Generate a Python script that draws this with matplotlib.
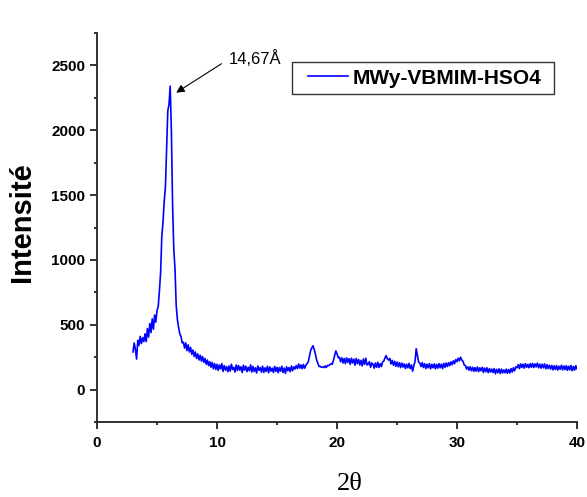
import matplotlib
matplotlib.use("Agg")
import matplotlib.pyplot as plt
from matplotlib.patches import Rectangle
import numpy as np

# 2theta grid (deg), 0.1 step from 3.0 to 40.0
two_theta = np.round(np.arange(30, 401) / 10.0, 1)

# intensity, one row per degree
intensity = [
    290, 360, 310, 235, 380, 340, 410, 355, 400, 370,        # 3
    430, 370, 470, 405, 510, 440, 545, 465, 575, 520,        # 4
    610, 640, 760, 900, 1180, 1290, 1450, 1560, 1850, 2150,  # 5
    2200, 2340, 1990, 1420, 1080, 930, 650, 540, 480, 430,   # 6
    410, 360, 365, 320, 360, 300, 345, 290, 325, 272,        # 7
    305, 255, 290, 240, 275, 228, 265, 220, 255, 210,        # 8
    240, 195, 228, 185, 215, 172, 210, 160, 200, 155,        # 9
    195, 148, 190, 160, 200, 140, 185, 150, 178, 138,        # 10
    182, 142, 196, 155, 172, 135, 190, 148, 185, 150,        # 11
    176, 132, 188, 150, 180, 138, 172, 145, 190, 135,        # 12
    178, 140, 168, 128, 182, 148, 170, 135, 180, 132,        # 13
    168, 140, 180, 130, 175, 142, 165, 132, 178, 140,        # 14
    172, 130, 170, 142, 180, 132, 166, 125, 176, 145,        # 15
    170, 138, 182, 145, 176, 158, 185, 162, 198, 165,        # 16
    190, 160, 194, 165, 186, 200, 212, 255, 300, 322,        # 17
    338, 310, 275, 228, 205, 178, 180, 172, 175, 170,        # 18
    182, 170, 186, 184, 192, 200, 194, 225, 262, 298,        # 19
    278, 245, 250, 215, 245, 205, 240, 200, 245, 210,        # 20
    238, 195, 242, 205, 235, 188, 240, 200, 232, 190,        # 21
    225, 182, 236, 195, 242, 190, 195, 215, 172, 205,        # 22
    196, 165, 205, 172, 210, 170, 200, 178, 212, 220,        # 23
    245, 262, 238, 228, 240, 198, 225, 188, 218, 180,        # 24
    212, 176, 208, 170, 205, 174, 198, 162, 195, 168,        # 25
    202, 162, 190, 142, 185, 215, 315, 262, 212, 205,        # 26
    178, 208, 170, 200, 162, 196, 168, 200, 160, 195,        # 27
    168, 198, 160, 195, 165, 200, 168, 196, 162, 202,        # 28
    172, 205, 178, 208, 184, 214, 192, 222, 200, 232,        # 29
    215, 242, 222, 250, 228, 218, 190, 185, 158, 175,        # 30
    150, 176, 145, 172, 140, 170, 142, 174, 138, 168,        # 31
    145, 172, 132, 166, 138, 168, 130, 162, 135, 158,        # 32
    132, 162, 122, 156, 130, 160, 124, 158, 128, 152,        # 33
    130, 158, 125, 155, 128, 162, 135, 168, 145, 175,        # 34
    168, 192, 162, 198, 170, 196, 165, 200, 172, 194,        # 35
    168, 200, 172, 202, 170, 198, 175, 204, 168, 196,        # 36
    165, 196, 168, 198, 160, 192, 162, 188, 158, 186,        # 37
    152, 184, 155, 186, 150, 180, 156, 188, 152, 182,        # 38
    154, 184, 148, 180, 152, 186, 145, 178, 150, 184,        # 39
    160,                                                     # 40
]

series_name = "MWy-VBMIM-HSO4"
peak_label = "14,67\u00c5"
peak_pos = (6.6, 2290)

plt.rcParams['font.family'] = ['Liberation Sans', 'DejaVu Sans']

W, H = 587, 497
fig = plt.figure(figsize=(W / 100, H / 100), dpi=100)
ax = fig.add_axes([97 / W, 1 - 422 / H, 480 / W, 389 / H])

ax.plot(two_theta, intensity, color='#0000ff', lw=1.2, label=series_name)

ax.set_xlim(0, 40)
ax.set_ylim(-250, 2750)
ax.set_xticks([0, 10, 20, 30, 40])
ax.set_xticks([5, 15, 25, 35], minor=True)
ax.set_yticks([0, 500, 1000, 1500, 2000, 2500])
ax.set_yticks([-250, 250, 750, 1250, 1750, 2250, 2750], minor=True)

for s in ['top', 'right']:
    ax.spines[s].set_visible(False)
for s in ['left', 'bottom']:
    ax.spines[s].set_linewidth(1.3)
    ax.spines[s].set_color('#222222')

ax.tick_params(which='major', direction='out', length=5, width=1.3, color='#222222')
ax.tick_params(which='minor', direction='out', length=2.5, width=1.3, color='#222222')
ax.tick_params(axis='x', which='major', pad=5)
for lab in ax.get_xticklabels() + ax.get_yticklabels():
    lab.set_fontweight('bold')
    lab.set_fontsize(11)

ax.set_ylabel("Intensit\u00e9", fontsize=21, fontweight='bold')
ax.yaxis.set_label_coords(-0.128, 0.515)
ax.set_xlabel("2\u03b8", fontsize=19, family=['Liberation Serif', 'DejaVu Serif'])
ax.xaxis.set_label_coords(0.527, -0.13)

ax.annotate(peak_label, xy=peak_pos, xytext=(11.0, 2550), fontsize=12,
            ha='left', va='center',
            arrowprops=dict(arrowstyle='-|>', color='black', lw=0.8,
                            mutation_scale=12, shrinkA=4, shrinkB=0,
                            relpos=(0, 0.5)))

# legend: box drawn separately so the inner spacing can match
leg = ax.legend(loc='center left', bbox_to_anchor=(308 / W, 1 - 78 / H),
                bbox_transform=fig.transFigure, borderaxespad=0,
                frameon=False, prop=dict(size=15, weight='bold'),
                handlelength=1.9, handletextpad=0.25, borderpad=0)
fig.patches.append(Rectangle((292 / W, 1 - 94 / H), 262 / W, 32 / H,
                             transform=fig.transFigure, fill=False,
                             edgecolor='#333333', lw=1.0))

fig.savefig("out.png", dpi=100)
